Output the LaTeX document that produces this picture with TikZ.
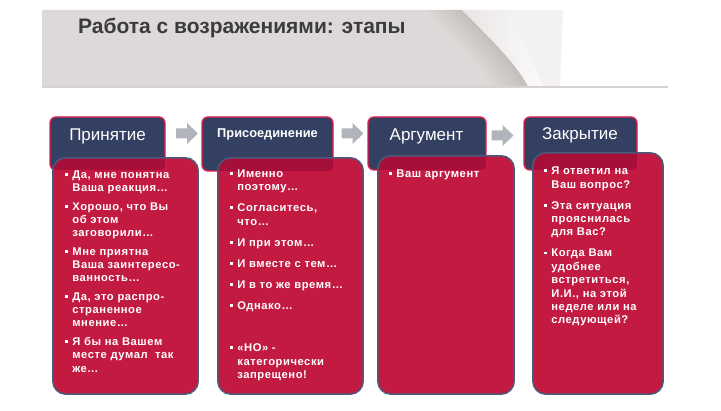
\documentclass[tikz,border=0pt]{standalone}
\usepackage{fontspec}
\setmainfont{Liberation Sans}
\newfontfamily\bodyfont[LetterSpace=5]{Liberation Sans}
\usetikzlibrary{calc}
\definecolor{navy}{HTML}{344062}
\definecolor{hdrborder}{HTML}{E41E4C}
\definecolor{bodyred}{HTML}{C21A41}
\definecolor{overlapred}{HTML}{A60F3A}
\definecolor{bodyborder}{HTML}{4B5A7B}
\definecolor{bandgray}{HTML}{DDD9D8}
\definecolor{shadowgray}{HTML}{A89C9A}
\definecolor{flapgray}{HTML}{E9E5E4}
\definecolor{titlegray}{HTML}{3B3B3B}
\definecolor{arrowgray}{HTML}{B1B4BA}
\definecolor{linegray}{HTML}{D7D2D1}
\newcommand\bul{\makebox[7.2pt][l]{\rule[2.4pt]{2.8pt}{2.8pt}}}
\newcommand\ind{\hspace*{7.2pt}}
\begin{document}
\begin{tikzpicture}[x=1pt,y=-1pt,
  hdr/.style={draw=hdrborder, line width=1.3pt, fill=navy, rounded corners=6pt, inner sep=0pt},
  bodybox/.style={fill=bodyred, rounded corners=13pt, inner sep=0pt},
  bodyedge/.style={draw=bodyborder, line width=1.5pt, rounded corners=13pt},
  hdrtext/.style={text=white, inner sep=0pt, anchor=base},
  btext/.style={text=white, inner sep=0pt, anchor=base west, font=\bodyfont\fontsize{11.2}{13.4}\selectfont\bfseries},
  arrowshape/.style={fill=arrowgray}
]
\useasboundingbox (0,0) rectangle (721,411);
% header band
\fill[bandgray] (42,10) -- (462,10) .. controls (490,38) and (515,62) .. (528,86) -- (42,86) -- cycle;
\foreach \d in {3,6,...,36} {
  \fill[shadowgray, fill opacity=0.035] ({462-\d},10) .. controls ({490-\d},38) and ({515-\d},62) .. ({528-\d},86) -- (528,86) .. controls (515,62) and (490,38) .. (462,10) -- cycle;
}
\fill[white!50!flapgray] (510,10) -- (563,10) -- (560,86) -- (543,86) -- cycle;
\shade[left color=flapgray, right color=white!80!flapgray] (462,10) .. controls (490,38) and (515,62) .. (528,86) -- (543,86) -- (510,10) -- cycle;
\draw[linegray, line width=1.2pt] (42,87) -- (668,87);
\node[font=\fontsize{21}{25}\selectfont\bfseries, text=titlegray, anchor=base west, inner sep=0pt] (title) at (78,33.3) {Работа с возражениями: этапы};

% headers
\node[hdr, minimum width=115pt, minimum height=53pt] (h1) at (107.5,143.5) {};
\node[hdr, minimum width=131pt, minimum height=54pt] (h2) at (267.5,144) {};
\node[hdr, minimum width=118pt, minimum height=53pt] (h3) at (427,143.5) {};
\node[hdr, minimum width=113pt, minimum height=53pt] (h4) at (580.5,143.5) {};

% bodies
\node[bodybox, minimum width=145pt, minimum height=236pt] (b1) at (125.5,276) {};
\node[bodybox, minimum width=145pt, minimum height=236pt] (b2) at (290.5,276) {};
\node[bodybox, minimum width=136pt, minimum height=238pt] (b3) at (446,275) {};
\node[bodybox, minimum width=130pt, minimum height=241pt] (b4) at (598,273.5) {};

\foreach \b/\h in {b1/h1,b2/h2,b3/h3,b4/h4} {
  \begin{scope}
    \clip[rounded corners=13pt] (\b.north west) rectangle (\b.south east);
    \fill[overlapred, rounded corners=6pt] (\h.north west) rectangle (\h.south east);
    \draw[hdrborder!55!overlapred, line width=1pt, rounded corners=6pt] (\h.north west) rectangle (\h.south east);
  \end{scope}
  \draw[bodyedge] (\b.north west) rectangle (\b.south east);
}

% header texts
\node[hdrtext, font=\fontsize{17}{20}\selectfont] (t1) at (107.5,140.7) {Принятие};
\node[hdrtext, font=\fontsize{12.8}{15}\selectfont\bfseries] (t2) at (267.5,137.7) {Присоединение};
\node[hdrtext, font=\fontsize{17}{20}\selectfont] (t3) at (426.5,140.7) {Аргумент};
\node[hdrtext, font=\fontsize{17}{20}\selectfont] (t4) at (580,139.3) {Закрытие};

% arrows
\coordinate (a1) at (187,133.5);
\coordinate (a2) at (352.5,133.5);
\coordinate (a3) at (502.5,135.5);
\foreach \a in {a1,a2,a3} {
  \fill[arrowshape] ($(\a)+(-11,-5)$) -- ($(\a)+(0,-5)$) -- ($(\a)+(0,-10.5)$) -- ($(\a)+(11,0)$) -- ($(\a)+(0,10.5)$) -- ($(\a)+(0,5)$) -- ($(\a)+(-11,5)$) -- cycle;
}

% body texts
\node[btext, font=\bodyfont\fontsize{11.2}{13.2}\selectfont\bfseries] (x1) at (65,178.5) {\begin{tabular}[t]{@{}l@{}}
\bul Да, мне понятна\\
\ind Ваша реакция…\\[5.5pt]
\bul Хорошо, что Вы\\
\ind об этом\\
\ind заговорили…\\[5.5pt]
\bul Мне приятна\\
\ind Ваша заинтересо-\\
\ind ванность…\\[5.5pt]
\bul Да, это распро-\\
\ind страненное\\
\ind мнение…\\[5.5pt]
\bul Я бы на Вашем\\
\ind месте думал~~так\\
\ind же...
\end{tabular}};

\node[btext] (x2) at (230,177.3) {\begin{tabular}[t]{@{}l@{}}
\bul Именно\\
\ind поэтому…\\[7.6pt]
\bul Согласитесь,\\
\ind что…\\[7.6pt]
\bul И при этом…\\[7.6pt]
\bul И вместе с тем…\\[7.6pt]
\bul И в то же время…\\[7.6pt]
\bul Однако…\\[29.2pt]
\bul «НО» -\\
\ind категорически\\
\ind запрещено!
\end{tabular}};

\node[btext] (x3) at (389,177.3) {\begin{tabular}[t]{@{}l@{}}
\bul Ваш аргумент
\end{tabular}};

\node[btext] (x4) at (544,174.7) {\begin{tabular}[t]{@{}l@{}}
\bul Я ответил на\\
\ind Ваш вопрос?\\[7.6pt]
\bul Эта ситуация\\
\ind прояснилась\\
\ind для Вас?\\[7.6pt]
\bul Когда Вам\\
\ind удобнее\\
\ind встретиться,\\
\ind И.И., на этой\\
\ind неделе или на\\
\ind следующей?
\end{tabular}};
\end{tikzpicture}
\end{document}
